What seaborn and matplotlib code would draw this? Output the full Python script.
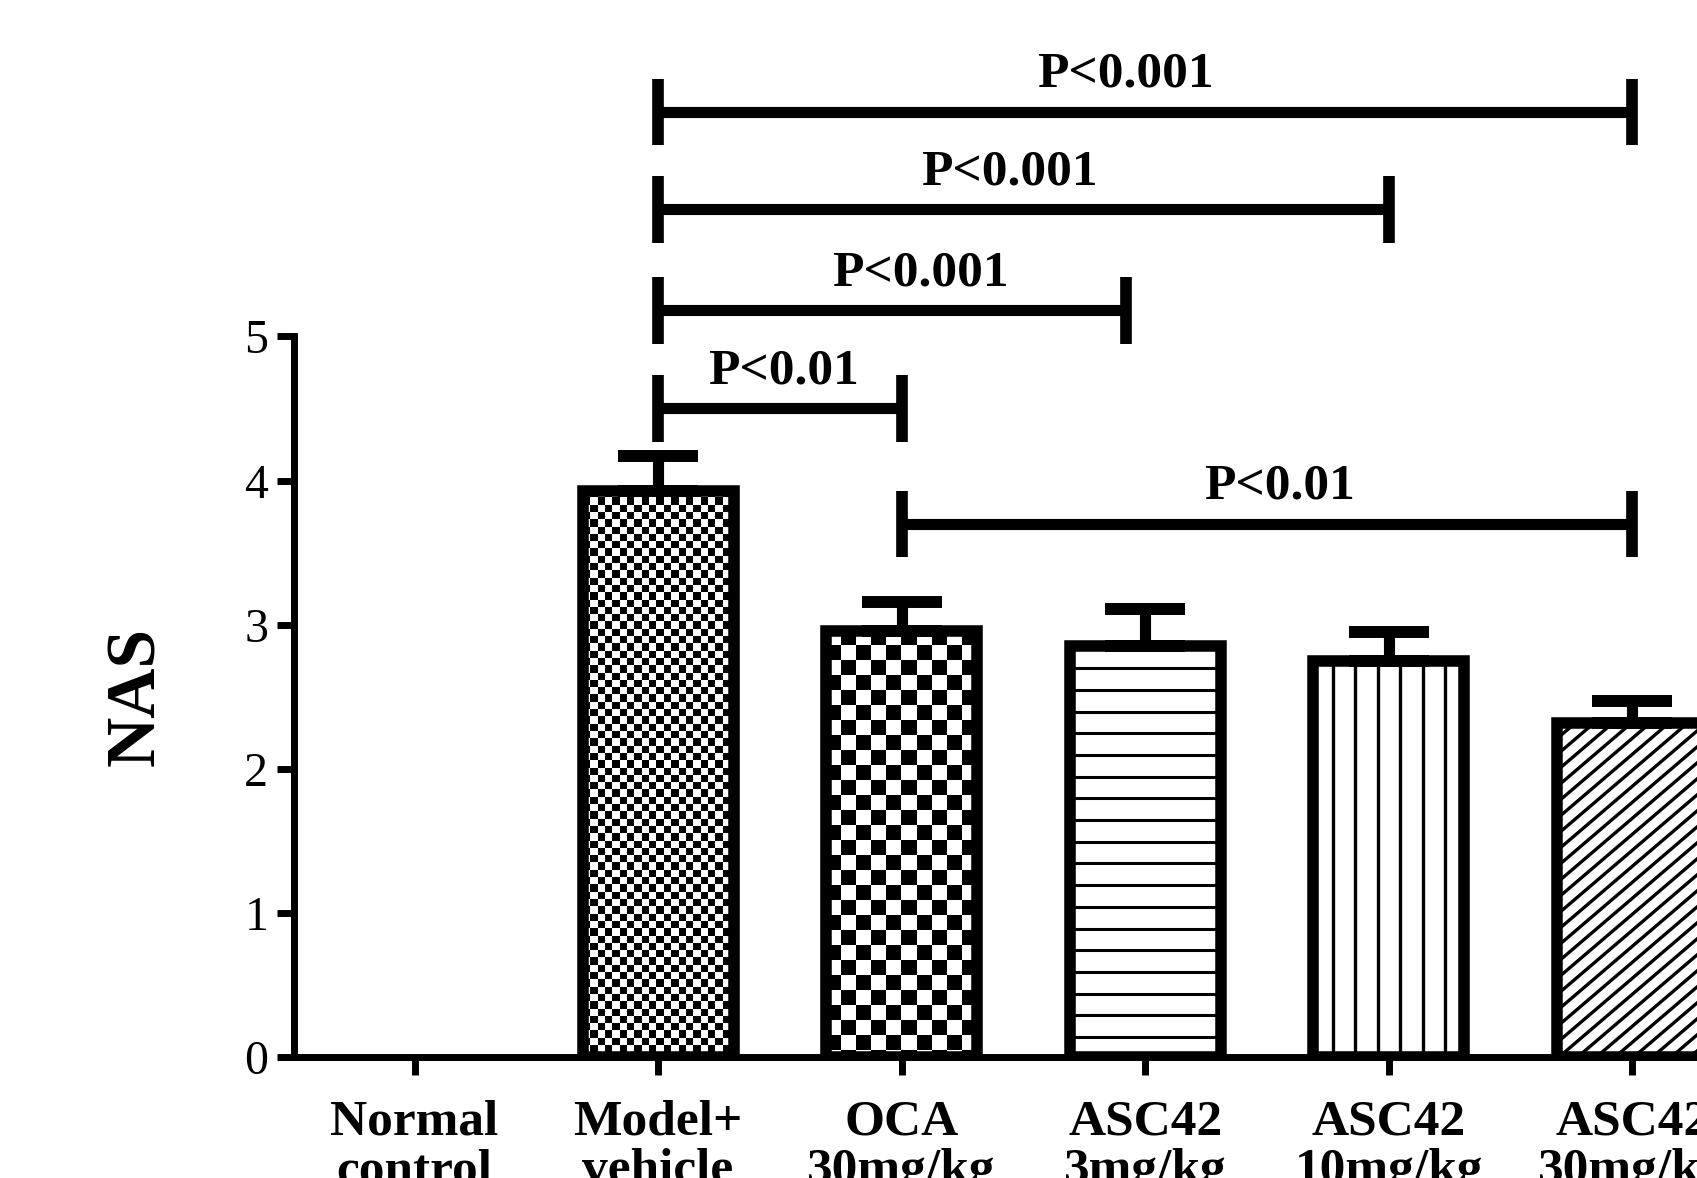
import numpy as np
import pandas as pd
import matplotlib
matplotlib.use("Agg")
import matplotlib.pyplot as plt
import seaborn as sns
from matplotlib.collections import LineCollection
from matplotlib.transforms import blended_transform_factory

# ---------------- data ----------------
groups = ["Normal\ncontrol", "Model+\nvehicle", "OCA\n30mg/kg",
          "ASC42\n3mg/kg", "ASC42\n10mg/kg", "ASC42\n30mg/kg"]
nas_mean = [0.0, 3.93, 2.96, 2.85, 2.75, 2.32]
nas_sem = [0.0, 0.24, 0.20, 0.26, 0.20, 0.15]
fill_style = ["none", "checker_fine", "checker_coarse", "hlines", "vlines", "diag"]

y_ticks = [0, 1, 2, 3, 4, 5]

# significance brackets (category positions / NAS units)
br_x1 = [1, 1, 1, 1, 2]
br_x2 = [5, 4, 2.92, 2, 5]
br_y = [6.556, 5.88, 5.18, 4.50, 3.70]
br_text = ["P<0.001", "P<0.001", "P<0.001", "P<0.01", "P<0.01"]
br_text_x = [2.92, 2.44, 2.075, 1.515, 3.55]

# ---------------- style ----------------
sns.set_theme(style="ticks")
plt.rcParams.update({
    "axes.edgecolor": "black", "xtick.color": "black", "ytick.color": "black",
    "text.color": "black", "axes.labelcolor": "black",
})
plt.rcParams["font.family"] = ["Liberation Serif", "DejaVu Serif"]

fig = plt.figure(figsize=(16.97, 11.78), dpi=100)
ax = fig.add_axes([0.17325, 0.1024, 0.8604, 0.8936])

df = pd.DataFrame({"group": groups, "NAS": nas_mean})
sns.barplot(data=df, x="group", y="NAS", order=groups, color="white",
            edgecolor="black", linewidth=8.3, width=0.62, errorbar=None,
            saturation=1, ax=ax)
ax.set_xlim(-0.495, 5.5)
ax.set_ylim(0, 7.3)
ax.set_autoscale_on(False)

patches = list(ax.patches)[:len(groups)]


def px_per_unit():
    (ax0, ay0), (ax1, ay1) = ax.transData.transform([(0, 0), (1, 1)])
    return ax1 - ax0, ay1 - ay0


ppx, ppy = px_per_unit()


def add_lines(patch, segs, lw):
    lc = LineCollection(segs, colors="black", linewidths=lw, zorder=2)
    ax.add_collection(lc)
    lc.set_clip_path(patch)


def checker(patch, sq_px):
    x0, y0 = patch.get_x(), patch.get_y()
    w, h = patch.get_width(), patch.get_height()
    sx, sy = sq_px / ppx, sq_px / ppy
    nx = int(np.ceil(w / sx)) + 1
    ny = int(np.ceil(h / sy)) + 1
    arr = np.add.outer(np.arange(ny), np.arange(nx)) % 2
    top = y0 + h
    im = ax.imshow(arr, extent=[x0, x0 + nx * sx, top - ny * sy, top],
                   origin="upper", cmap="gray_r", vmin=0, vmax=1,
                   interpolation="nearest", aspect="auto", zorder=2)
    im.set_clip_path(patch)


def hlines(patch, sp_px):
    x0, y0 = patch.get_x(), patch.get_y()
    w, h = patch.get_width(), patch.get_height()
    s = sp_px / ppy
    ys = np.arange(y0 + h - s, y0, -s)
    add_lines(patch, [[(x0, y), (x0 + w, y)] for y in ys], 2.2)


def vlines(patch, sp_px, edge_px):
    x0, y0 = patch.get_x(), patch.get_y()
    w, h = patch.get_width(), patch.get_height()
    s = sp_px / ppx
    inner = w - edge_px / ppx
    n = int(np.floor(inner / s))
    cx = x0 + w / 2
    xs = cx + (np.arange(n) - (n - 1) / 2) * s
    add_lines(patch, [[(x, y0), (x, y0 + h)] for x in xs], 2.4)


def diag(patch, vsp_px, slope):
    x0, y0 = patch.get_x(), patch.get_y()
    w, h = patch.get_width(), patch.get_height()
    wpx, hpx = w * ppx, h * ppy
    cs = np.arange(hpx + vsp_px, -slope * wpx - vsp_px, -vsp_px)
    segs = [[(x0, y0 + c / ppy), (x0 + w, y0 + (c + slope * wpx) / ppy)]
            for c in cs]
    add_lines(patch, segs, 2.4)


for p, style, m in zip(patches, fill_style, nas_mean):
    p.set_facecolor("none")
    p.set_zorder(3)
    if m <= 0:
        p.set_visible(False)
        continue
    if style == "checker_fine":
        checker(p, 7.3)
    elif style == "checker_coarse":
        checker(p, 15.0)
    elif style == "hlines":
        hlines(p, 21.7)
    elif style == "vlines":
        vlines(p, 22.5, 11.5)
    elif style == "diag":
        diag(p, 16.0, 0.855)

# error bars (upper only)
for p, m, s in zip(patches, nas_mean, nas_sem):
    if s > 0:
        cx = p.get_x() + p.get_width() / 2
        ax.errorbar(cx, m, yerr=[[0], [s]], fmt="none", ecolor="black",
                    elinewidth=8, capsize=29, capthick=8.6, zorder=2.5)

# significance brackets
for x1, x2, y, t, tx in zip(br_x1, br_x2, br_y, br_text, br_text_x):
    ax.plot([x1, x2], [y, y], color="black", lw=8, solid_capstyle="butt",
            clip_on=False, zorder=4)
    ax.vlines([x1, x2], y - 0.23, y + 0.23, color="black", lw=8.4,
              clip_on=False, zorder=4)
    ax.text(tx, y + 0.175, t, ha="center", va="baseline", fontsize=37,
            fontweight="bold", clip_on=False)

# axes styling
ax.spines["top"].set_visible(False)
ax.spines["right"].set_visible(False)
for sp in ("left", "bottom"):
    ax.spines[sp].set_linewidth(5)
    ax.spines[sp].set_color("black")
ax.spines["left"].set_bounds(0, 5)
ax.set_yticks(y_ticks)
ax.set_yticklabels([str(v) for v in y_ticks])
ax.tick_params(axis="y", left=True, length=12.5, width=5, labelsize=34.5,
               pad=6, direction="out")
ax.tick_params(axis="x", bottom=True, length=13, width=5, labelsize=37,
               pad=17, direction="out")
for lab in ax.get_xticklabels():
    lab.set_fontweight("bold")
    lab.set_linespacing(1.09)
ax.set_xlabel("")
ax.set_ylabel("")
trans = blended_transform_factory(ax.transAxes, ax.transData)
ax.text(-0.1075, 2.5, "NAS", transform=trans, rotation=90, ha="center",
        va="center", fontsize=50, fontweight="bold")

ax.set_xlim(-0.495, 5.5)
ax.set_ylim(0, 7.3)
fig.savefig("out.png", dpi=100)
